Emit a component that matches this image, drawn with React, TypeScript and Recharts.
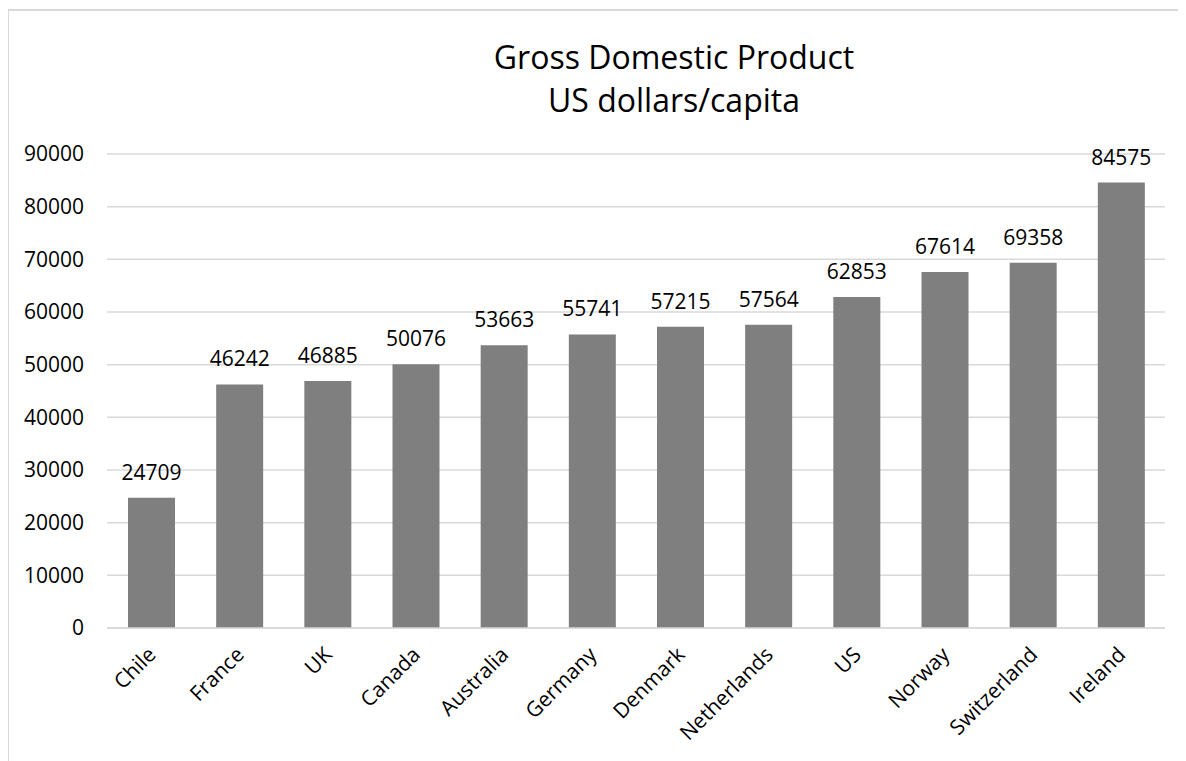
import { Bar, BarChart, CartesianGrid, LabelList, XAxis, YAxis } from "recharts";

const countries = ["Chile", "France", "UK", "Canada", "Australia", "Germany", "Denmark", "Netherlands", "US", "Norway", "Switzerland", "Ireland"];
const gdp = [24709, 46242, 46885, 50076, 53663, 55741, 57215, 57564, 62853, 67614, 69358, 84575];
const yTicks = [0, 10000, 20000, 30000, 40000, 50000, 60000, 70000, 80000, 90000];

const data = countries.map((c, i) => ({ country: c, gdp: gdp[i] }));

const font = "'Open Sans', sans-serif";

const XTick = (props: any) => {
  const { x, y, payload } = props;
  const px = x + 6;
  const py = y + 20;
  return (
    <text x={px} y={py} transform={`rotate(-45, ${px}, ${py})`} textAnchor="end" fontSize={21} fill="#000" fontFamily={font}>
      {payload.value}
    </text>
  );
};

const ValueLabel = (props: any) => {
  const { x, y, width, value } = props;
  return (
    <text x={x + width / 2} y={y - 18} textAnchor="middle" fontSize={21} fill="#000" fontFamily={font}>
      {value}
    </text>
  );
};

export default function App() {
  return (
    <div style={{ marginLeft: -1, marginTop: 1, width: 1179, height: 750, borderTop: "2px solid #d9d9d9", borderLeft: "2px solid #d9d9d9", position: "relative", overflow: "hidden", fontFamily: font }}>
      <div style={{ position: "absolute", left: 0, width: 1330, top: 24, textAlign: "center", fontSize: 32, lineHeight: "43px", color: "#000" }}>
        Gross Domestic Product
        <br />
        US dollars/capita
      </div>
      <BarChart width={1177} height={748} data={data} margin={{ top: 143, right: 21, bottom: 0, left: 0 }} barCategoryGap="0%">
        <CartesianGrid vertical={false} stroke="#d9d9d9" strokeWidth={1.5} />
        <XAxis dataKey="country" interval={0} height={131} tickLine={false} axisLine={{ stroke: "#d9d9d9", strokeWidth: 1.5 }} tick={<XTick />} />
        <YAxis width={98} domain={[0, 90000]} ticks={yTicks} axisLine={false} tickLine={false} tickSize={0} tickMargin={23} tick={{ fontSize: 21, fill: "#000", fontFamily: font }} />
        <Bar dataKey="gdp" fill="#7f7f7f" barSize={47} isAnimationActive={false}>
          <LabelList dataKey="gdp" content={<ValueLabel />} />
        </Bar>
      </BarChart>
    </div>
  );
}
